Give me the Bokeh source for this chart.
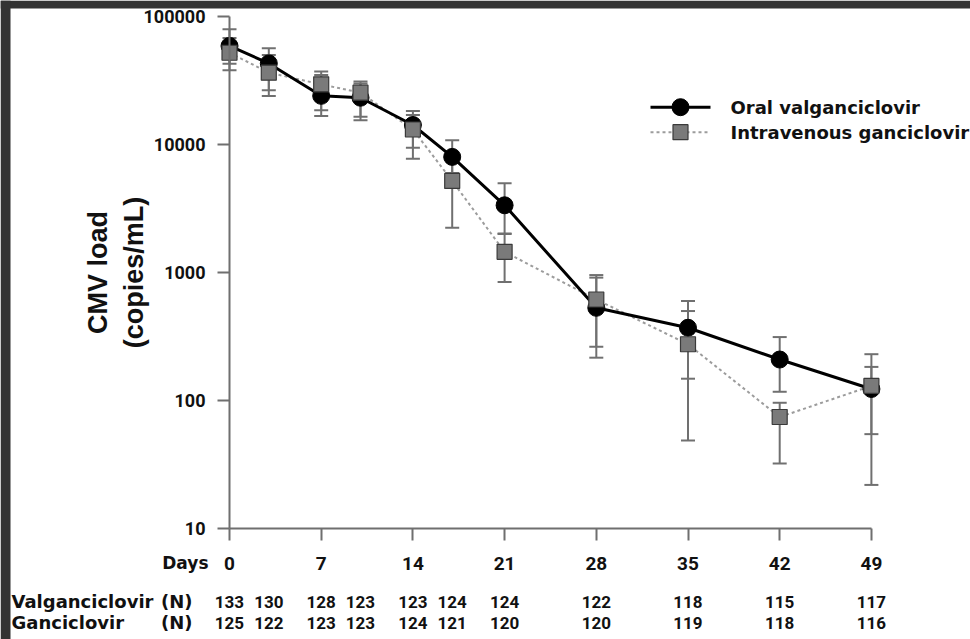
from bokeh.plotting import figure
from bokeh.models import (ColumnDataSource, Whisker, TeeHead, Range1d, FixedTicker,
                          Label, LabelSet, BoxAnnotation)
from bokeh.embed import file_html
from bokeh.resources import INLINE
from bokeh.core.properties import value

# ---------------- data ----------------
days = [0, 3, 7, 10, 14, 17, 21, 28, 35, 42, 49]

oral_mean = [58900, 43000, 24000, 23200, 14200, 8000, 3350, 530, 370, 209, 123]
oral_upper = [79400, 56400, 34900, 30000, 18300, 10800, 4980, 912, 599, 313, 183]
oral_lower = [42800, 26500, 16700, 15500, 9440, 6000, 2020, 216, 148, 117, 54.6]

iv_mean = [52100, 36400, 29500, 25400, 13100, 5190, 1450, 615, 275, 74.3, 130]
iv_upper = [68000, 50000, 37100, 31000, 17000, 7800, 2000, 955, 500, 96, 230]
iv_lower = [38000, 23900, 18500, 16500, 7750, 2240, 843, 263, 48.7, 32.2, 21.9]

n_valgan = [133, 130, 128, 123, 123, 124, 124, 122, 118, 115, 117]
n_ganc = [125, 122, 123, 123, 124, 121, 120, 120, 119, 118, 116]

x_ticks = [0, 7, 14, 21, 28, 35, 42, 49]
y_ticks = [10, 100, 1000, 10000, 100000]
y_tick_labels = ["10", "100", "1000", "10000", "100000"]

series_names = ["Oral valganciclovir", "Intravenous ganciclovir"]
row_names = ["Valganciclovir", "Ganciclovir"]
y_title = "CMV load\n(copies/mL)"
x_title = "Days"

# ---------------- layout: the frame fills the whole canvas ----------------
W, H = 970, 639
DAY0_PX = 229.0       # canvas x of day 0
PX_PER_DAY = 13.1
Y10_PX = 528.0        # canvas y of 10 copies/mL
PX_PER_DECADE = 128.0


def x_at(px):
    return (px - DAY0_PX) / PX_PER_DAY


def y_at(py):
    return 10 ** (1 + (Y10_PX - py) / PX_PER_DECADE)


NUM_FONT = "Roboto"
WORD_FONT = "DejaVu Sans"
TXT = "#111111"
AXIS_C = "#6f6f6f"

p = figure(width=W, height=H, y_axis_type="log",
           x_range=Range1d(x_at(0), x_at(W)), y_range=Range1d(y_at(H), y_at(0)),
           output_backend="svg", toolbar_location=None,
           min_border=0, min_border_left=0, min_border_right=0,
           min_border_top=0, min_border_bottom=0)
p.outline_line_color = None
p.xgrid.grid_line_color = None
p.ygrid.grid_line_color = None
p.background_fill_color = "white"
p.border_fill_color = "white"

# y axis (drawn at day 0)
ya = p.yaxis[0]
ya.fixed_location = 0
ya.bounds = (10, 100000)
ya.ticker = FixedTicker(ticks=y_ticks)
ya.major_label_overrides = dict(zip(y_ticks, y_tick_labels))
ya.minor_tick_line_color = None
ya.major_tick_in = 0
ya.major_tick_out = 12
ya.major_label_standoff = 12
ya.axis_line_color = AXIS_C
ya.axis_line_width = 2
ya.major_tick_line_color = AXIS_C
ya.major_tick_line_width = 2
ya.major_label_text_font = NUM_FONT
ya.major_label_text_font_style = "bold"
ya.major_label_text_font_size = "18px"
ya.major_label_text_color = TXT
ya.axis_label = y_title
ya.axis_label_text_font = "Liberation Sans"
ya.axis_label_text_font_style = "bold"
ya.axis_label_text_font_size = "27px"
ya.axis_label_text_color = TXT
ya.axis_label_standoff = -8

# x axis (drawn at 10 copies/mL)
xa = p.xaxis[0]
xa.fixed_location = 10
xa.bounds = (0, 49)
xa.ticker = FixedTicker(ticks=x_ticks)
xa.minor_tick_line_color = None
xa.major_tick_in = 0
xa.major_tick_out = 12
xa.major_label_standoff = 16
xa.axis_line_color = AXIS_C
xa.axis_line_width = 2
xa.major_tick_line_color = AXIS_C
xa.major_tick_line_width = 2
xa.major_label_text_font = NUM_FONT
xa.major_label_text_font_style = "bold"
xa.major_label_text_font_size = "19px"
xa.major_label_text_color = TXT

# error bars
ERR_C = "#707070"
for up, lo in ((oral_upper, oral_lower), (iv_upper, iv_lower)):
    src = ColumnDataSource(dict(x=days, upper=up, lower=lo))
    w = Whisker(source=src, base="x", upper="upper", lower="lower", dimension="height",
                line_color=ERR_C, line_width=2,
                upper_head=TeeHead(size=14, line_color=ERR_C, line_width=2),
                lower_head=TeeHead(size=14, line_color=ERR_C, line_width=2))
    p.add_layout(w)

# lines and markers
IV_LINE = dict(line_color="#9c9c9c", line_width=2, line_dash="3 3")
ORAL_LINE = dict(line_color="#000000", line_width=3)
CIRCLE = dict(marker="circle", size=17, fill_color="#000000", line_color="#000000")
SQUARE = dict(marker="square", size=15, fill_color="#7a7a7a", line_color="#3a3a3a", line_width=1.2)

p.line(days, iv_mean, **IV_LINE)
p.line(days, oral_mean, **ORAL_LINE)
p.scatter(days, oral_mean, **CIRCLE)
p.scatter(days, iv_mean, **SQUARE)

# legend (drawn with glyphs)
leg_y = [y_at(106.7), y_at(131.7)]
lx0, lx1, lxm, ltx = x_at(650), x_at(710), x_at(680), x_at(730)
p.line([lx0, lx1], [leg_y[0]] * 2, **ORAL_LINE)
p.scatter([lxm], [leg_y[0]], **CIRCLE)
p.line([lx0, lx1], [leg_y[1]] * 2, **IV_LINE)
p.scatter([lxm], [leg_y[1]], **SQUARE)
p.text([ltx, ltx], leg_y, text=series_names, text_font=value(WORD_FONT),
       text_font_style="bold", text_font_size="18px", text_color=TXT,
       text_baseline="middle", text_align="left")

# "Days" label
p.add_layout(Label(x=x_at(208), y=y_at(562), text=x_title, text_align="right",
                   text_baseline="middle", text_font=WORD_FONT, text_font_style="bold",
                   text_font_size="17px", text_color=TXT))

# N rows
row_y = [y_at(601), y_at(622)]
for name, ry, ns in zip(row_names, row_y, (n_valgan, n_ganc)):
    p.add_layout(Label(x=x_at(11), y=ry, text=name, text_align="left", text_baseline="middle",
                       text_font=WORD_FONT, text_font_style="bold", text_font_size="18px",
                       text_color=TXT))
    p.add_layout(Label(x=x_at(192), y=ry, text="(N)", text_align="right", text_baseline="middle",
                       text_font=WORD_FONT, text_font_style="bold", text_font_size="18px",
                       text_color=TXT))
    src = ColumnDataSource(dict(x=days, y=[ry] * len(days), t=[str(v) for v in ns]))
    p.add_layout(LabelSet(source=src, x="x", y="y", text="t", text_align="center",
                          text_baseline="middle", text_font=value(NUM_FONT),
                          text_font_style="bold", text_font_size="17px", text_color=TXT))

# dark screenshot edges (top and left)
DARK = "#333333"
p.add_layout(BoxAnnotation(bottom=y_at(8), fill_color=DARK, fill_alpha=1, line_color=None))
p.add_layout(BoxAnnotation(right=x_at(10), fill_color=DARK, fill_alpha=1, line_color=None))

open("out.html", "w").write(file_html(p, INLINE))
